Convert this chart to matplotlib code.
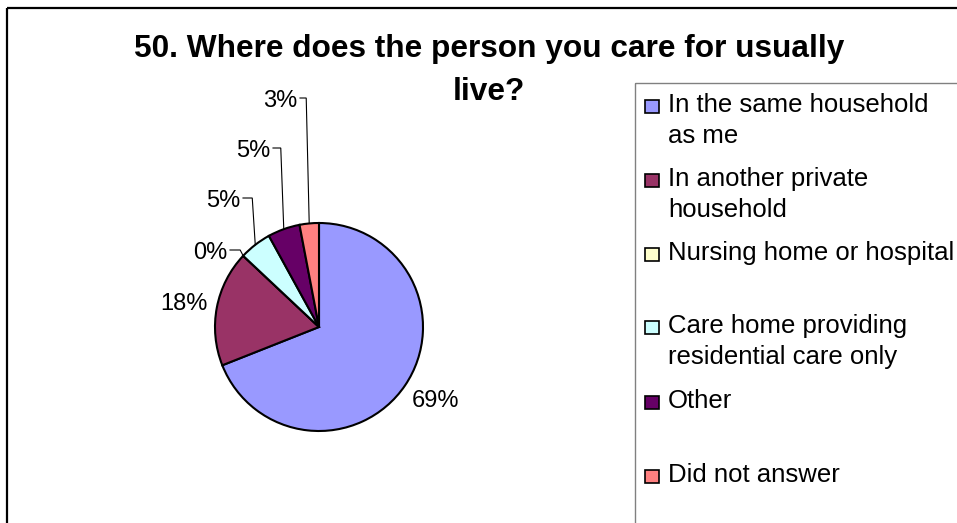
import numpy as np
import matplotlib.pyplot as plt
from matplotlib.patches import Rectangle

plt.rcParams['font.family'] = ['Liberation Sans', 'DejaVu Sans']

# data
categories = ["In the same household\nas me",
              "In another private\nhousehold",
              "Nursing home or hospital",
              "Care home providing\nresidential care only",
              "Other",
              "Did not answer"]
shares = [69, 18, 0, 5, 5, 3]
pct_labels = ["69%", "18%", "0%", "5%", "5%", "3%"]
colors = ["#9999FF", "#993366", "#FFFFCC", "#CCFFFF", "#660066", "#FF8080"]

fig = plt.figure(figsize=(9.57, 5.23), dpi=100)
ax = fig.add_axes([0, 0, 1, 1])

# pie in pixel space (y axis inverted -> counterclock in data = clockwise on screen)
cx, cy, r = 319, 327, 104
wedges, _ = ax.pie(shares, colors=colors, startangle=-90, counterclock=True,
                   center=(cx, cy), radius=r,
                   wedgeprops=dict(edgecolor='black', linewidth=1.5))
ax.set_xlim(0, 957)
ax.set_ylim(523, 0)
ax.set_aspect('auto')
ax.axis('off')

# percentage labels: (x, baseline y, ha, leader line?)
label_pos = [(412, 407, 'left', False),
             (208, 310, 'right', False),
             (227, 259, 'right', True),
             (240, 207, 'right', True),
             (270, 157, 'right', True),
             (297, 107, 'right', True)]
for w, txt, (lx, ly, ha, lead) in zip(wedges, pct_labels, label_pos):
    ax.text(lx, ly, txt, fontsize=17, ha=ha, va='baseline', color='black')
    if lead:
        mid = np.deg2rad((w.theta1 + w.theta2) / 2)
        px = cx + r * np.cos(mid)
        py = cy + r * np.sin(mid)
        yl = ly - 9
        ax.plot([lx + 3, px - 3, px], [yl, yl, py], color='black', lw=0.8,
                solid_joinstyle='miter')

# title
ax.text(489, 57, "50. Where does the person you care for usually",
        fontsize=22.8, fontweight='bold', ha='center', va='baseline')
ax.text(489, 100, "live?", fontsize=22.8, fontweight='bold',
        ha='center', va='baseline')

# outer chart border and legend box (both run off the image edge)
ax.add_patch(Rectangle((7, 8), 1200, 800, fill=False, edgecolor='black', lw=1.6))
ax.add_patch(Rectangle((635, 83), 600, 600, fill=False, edgecolor='#808080', lw=1))

# legend
first_baselines = [112, 186, 260, 333, 408, 482]
for lab, col, yb in zip(categories, colors, first_baselines):
    ax.add_patch(Rectangle((645, yb - 12), 14, 13, facecolor=col,
                           edgecolor='black', lw=1.2))
    for i, line in enumerate(lab.split("\n")):
        ax.text(668, yb + 31 * i, line, fontsize=18.5, ha='left', va='baseline')

fig.savefig("out.png", dpi=100)
